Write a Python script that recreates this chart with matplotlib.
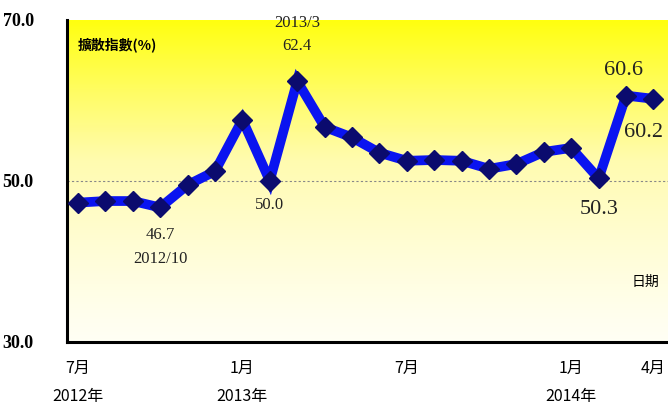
import matplotlib
matplotlib.use('Agg')
import matplotlib.pyplot as plt
import numpy as np
from matplotlib.colors import LinearSegmentedColormap

# monthly diffusion index, 2012/7 .. 2014/4
months = ['2012/7', '2012/8', '2012/9', '2012/10', '2012/11', '2012/12',
          '2013/1', '2013/2', '2013/3', '2013/4', '2013/5', '2013/6',
          '2013/7', '2013/8', '2013/9', '2013/10', '2013/11', '2013/12',
          '2014/1', '2014/2', '2014/3', '2014/4']
values = [47.3, 47.5, 47.5, 46.7, 49.5, 51.2,
          57.6, 50.0, 62.4, 56.7, 55.4, 53.5,
          52.5, 52.6, 52.5, 51.5, 52.1, 53.6,
          54.1, 50.3, 60.6, 60.2]
month_ticks = ['2012/7', '2013/1', '2013/7', '2014/1', '2014/4']
month_labels = ['7月', '1月', '7月', '1月', '4月']
year_ticks = ['2012/7', '2013/1', '2014/1']
year_labels = ['2012年', '2013年', '2014年']
y_ticks = [30.0, 50.0, 70.0]

cjk = ['Noto Sans CJK TC', 'DejaVu Sans']
serif = ['Liberation Serif', 'DejaVu Serif']

fig = plt.figure(figsize=(6.68, 4.07), dpi=100)
ax = fig.add_axes([0.1003, 0.16, 0.8997, 0.791])

x = np.arange(len(months))
idx = {m: i for i, m in enumerate(months)}
xmin, xmax = -0.4, 21.53
ymin, ymax = 30, 70

# yellow-to-cream gradient background
cmap = LinearSegmentedColormap.from_list('bg', ['#fffff4', '#fffbb0', '#ffff10'])
grad = np.linspace(0, 1, 256).reshape(-1, 1) ** 1.2
ax.imshow(grad, extent=[xmin, xmax, ymin, ymax], origin='lower',
          aspect='auto', cmap=cmap, zorder=0)

ax.axhline(50, color='#888888', lw=0.8, ls=(0, (2, 2)), zorder=1)
ax.plot(x, values, color='#0a14f0', lw=7, zorder=2, solid_joinstyle='miter')
ax.plot(x, values, ls='none', marker='D', ms=10, color='#0b0b6e',
        markeredgecolor='#0b0b6e', zorder=3)

ax.set_xlim(xmin, xmax)
ax.set_ylim(ymin, ymax)
for s in ['top', 'right']:
    ax.spines[s].set_visible(False)
ax.spines['left'].set_linewidth(2.2)
ax.spines['bottom'].set_linewidth(2.2)
ax.tick_params(length=0)
ax.set_xticks([idx[m] for m in month_ticks])
ax.set_xticklabels(month_labels, family=cjk, fontsize=11.5)
ax.tick_params(axis='x', pad=13)
ax.set_yticks(y_ticks)
ax.set_yticklabels(['%.1f' % v for v in y_ticks], family=serif,
                   fontsize=13, fontweight='bold')
ax.tick_params(axis='y', pad=24)

for m, lab in zip(year_ticks, year_labels):
    ax.annotate(lab, (idx[m], ymin), xytext=(0, -55), textcoords='offset pixels',
                ha='center', va='center', family=cjk, fontsize=11.5)

ax.text(0.0, 66.9, '擴散指數(%)', family=cjk, fontsize=10, fontweight='bold',
        ha='left', va='center')
ax.text(20.7, 37.5, '日期', family=cjk, fontsize=10, ha='center', va='center')

# point annotations
ann = [('2013/3', '2013/3', 0, 58, 12),
       ('2013/3', '62.4', 0, 35, 12),
       ('2012/10', '46.7', 0, -28, 12),
       ('2012/10', '2012/10', 0, -52, 12),
       ('2013/2', '50.0', 0, -24, 12),
       ('2014/3', '60.6', -3, 25, 16),
       ('2014/4', '60.2', -10, -34, 16),
       ('2014/2', '50.3', 0, -31, 16)]
for m, lab, dx, dy, fs in ann:
    ax.annotate(lab, (idx[m], values[idx[m]]), xytext=(dx, dy),
                textcoords='offset pixels', ha='center', va='center',
                family=serif, fontsize=fs, color='#222222')

fig.savefig('out.png', dpi=100, facecolor='white')
